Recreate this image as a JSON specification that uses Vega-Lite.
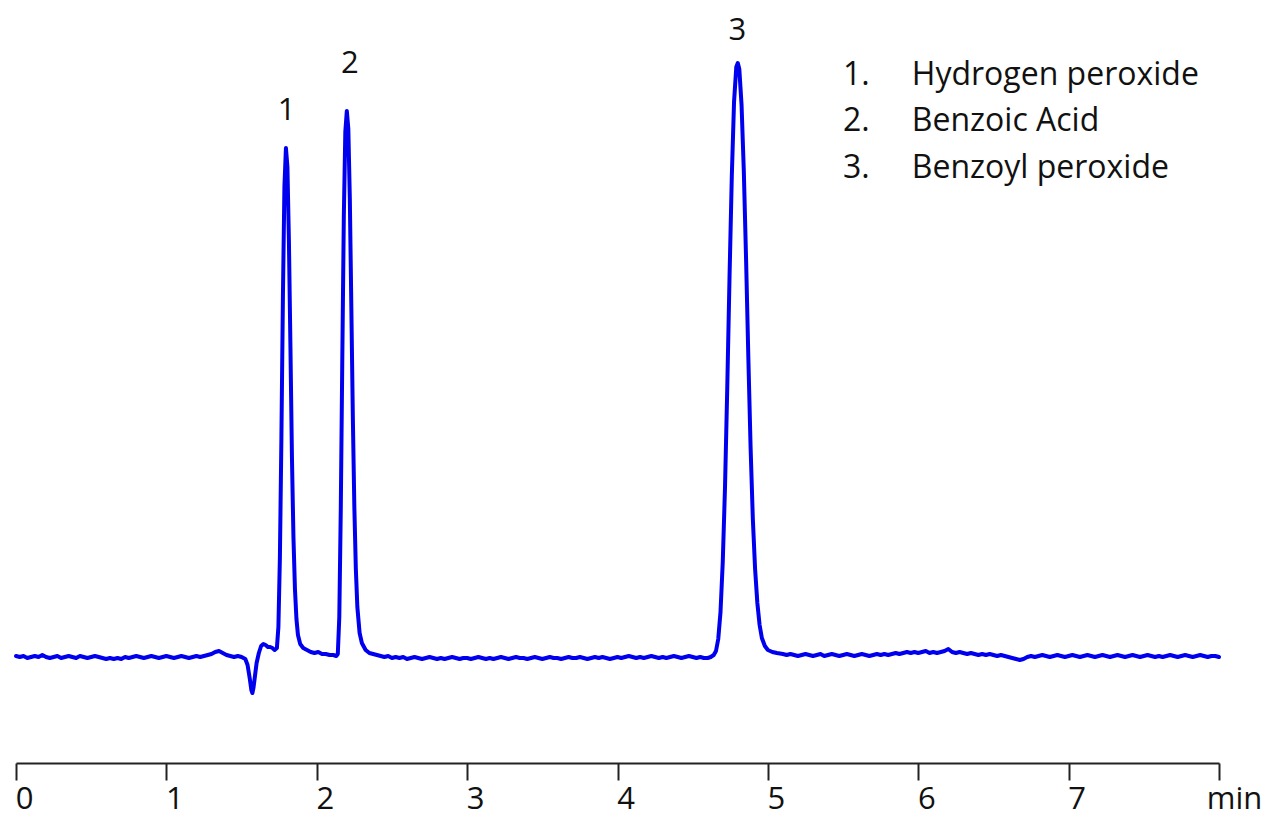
{
  "$schema": "https://vega.github.io/schema/vega-lite/v6.json",
  "width": 1203,
  "height": 743,
  "autosize": "none",
  "padding": {"left": 16, "top": 20, "right": 49, "bottom": 54},
  "background": "white",
  "config": {"view": {"stroke": null}},
  "datasets": {
    "trace": [
      {"t":0.000,"v":1},{"t":0.025,"v":0},{"t":0.050,"v":1},{"t":0.075,"v":-1},{"t":0.100,"v":0},{"t":0.125,"v":1},{"t":0.150,"v":0},{"t":0.175,"v":2},{"t":0.200,"v":0},{"t":0.225,"v":-1},
      {"t":0.250,"v":0},{"t":0.275,"v":1},{"t":0.300,"v":-1},{"t":0.325,"v":0},{"t":0.350,"v":1},{"t":0.375,"v":0},{"t":0.400,"v":-1},{"t":0.425,"v":1},{"t":0.450,"v":0},{"t":0.475,"v":-1},
      {"t":0.500,"v":0},{"t":0.525,"v":1},{"t":0.550,"v":0},{"t":0.575,"v":-1},{"t":0.600,"v":-2},{"t":0.625,"v":-1},{"t":0.650,"v":-2},{"t":0.675,"v":-1},{"t":0.700,"v":-2},{"t":0.725,"v":0},
      {"t":0.750,"v":-1},{"t":0.775,"v":0},{"t":0.800,"v":1},{"t":0.825,"v":0},{"t":0.850,"v":-1},{"t":0.875,"v":0},{"t":0.900,"v":1},{"t":0.925,"v":0},{"t":0.950,"v":-1},{"t":0.975,"v":0},
      {"t":1.000,"v":1},{"t":1.025,"v":0},{"t":1.050,"v":-1},{"t":1.075,"v":0},{"t":1.100,"v":1},{"t":1.125,"v":0},{"t":1.150,"v":-1},{"t":1.175,"v":0},{"t":1.200,"v":1},{"t":1.225,"v":0},
      {"t":1.250,"v":1},{"t":1.275,"v":2},{"t":1.300,"v":3},{"t":1.325,"v":5},{"t":1.350,"v":6},{"t":1.375,"v":4},{"t":1.400,"v":2},{"t":1.425,"v":1},{"t":1.450,"v":0},{"t":1.475,"v":1},
      {"t":1.500,"v":0},{"t":1.525,"v":-2},{"t":1.540,"v":-8},{"t":1.555,"v":-22},{"t":1.565,"v":-33},{"t":1.572,"v":-36},{"t":1.580,"v":-30},{"t":1.590,"v":-18},{"t":1.600,"v":-6},{"t":1.615,"v":4},
      {"t":1.630,"v":11},{"t":1.645,"v":13},{"t":1.660,"v":12},{"t":1.675,"v":10},{"t":1.690,"v":10},{"t":1.705,"v":9},{"t":1.720,"v":7},{"t":1.735,"v":9},{"t":1.745,"v":30},{"t":1.755,"v":100},
      {"t":1.765,"v":220},{"t":1.775,"v":360},{"t":1.785,"v":470},{"t":1.795,"v":509},{"t":1.805,"v":490},{"t":1.815,"v":415},{"t":1.825,"v":310},{"t":1.835,"v":200},{"t":1.845,"v":120},{"t":1.855,"v":68},
      {"t":1.865,"v":38},{"t":1.875,"v":22},{"t":1.890,"v":13},{"t":1.910,"v":9},{"t":1.935,"v":7},{"t":1.960,"v":5},{"t":1.985,"v":4},{"t":2.010,"v":5},{"t":2.035,"v":3},{"t":2.060,"v":3},
      {"t":2.085,"v":2},{"t":2.110,"v":2},{"t":2.130,"v":1},{"t":2.140,"v":3},{"t":2.150,"v":40},{"t":2.160,"v":150},{"t":2.170,"v":300},{"t":2.180,"v":440},{"t":2.190,"v":525},{"t":2.200,"v":546},
      {"t":2.210,"v":528},{"t":2.220,"v":458},{"t":2.230,"v":350},{"t":2.240,"v":240},{"t":2.250,"v":150},{"t":2.260,"v":88},{"t":2.270,"v":50},{"t":2.285,"v":24},{"t":2.300,"v":14},{"t":2.325,"v":7},
      {"t":2.350,"v":4},{"t":2.375,"v":3},{"t":2.400,"v":2},
      {"t":2.425,"v":1},{"t":2.450,"v":0},{"t":2.475,"v":1},{"t":2.500,"v":-1},{"t":2.525,"v":0},{"t":2.550,"v":-1},{"t":2.575,"v":0},{"t":2.600,"v":-2},{"t":2.625,"v":-1},{"t":2.650,"v":0},
      {"t":2.675,"v":-1},{"t":2.700,"v":-2},{"t":2.725,"v":-1},{"t":2.750,"v":0},{"t":2.775,"v":-1},{"t":2.800,"v":-2},{"t":2.825,"v":-1},{"t":2.850,"v":-2},{"t":2.875,"v":-1},{"t":2.900,"v":0},
      {"t":2.925,"v":-1},{"t":2.950,"v":-2},{"t":2.975,"v":-1},{"t":3.000,"v":-1},{"t":3.025,"v":-2},{"t":3.050,"v":-1},{"t":3.075,"v":0},{"t":3.100,"v":-1},{"t":3.125,"v":-2},{"t":3.150,"v":-1},
      {"t":3.175,"v":-2},{"t":3.200,"v":-1},{"t":3.225,"v":0},{"t":3.250,"v":-1},{"t":3.275,"v":-2},{"t":3.300,"v":-1},{"t":3.325,"v":0},{"t":3.350,"v":-1},{"t":3.375,"v":-1},{"t":3.400,"v":-2},
      {"t":3.425,"v":-1},{"t":3.450,"v":0},{"t":3.475,"v":-1},{"t":3.500,"v":-2},{"t":3.525,"v":-1},{"t":3.550,"v":0},{"t":3.575,"v":-1},{"t":3.600,"v":-1},{"t":3.625,"v":-2},{"t":3.650,"v":-1},
      {"t":3.675,"v":0},{"t":3.700,"v":-1},{"t":3.725,"v":-1},{"t":3.750,"v":0},{"t":3.775,"v":-1},{"t":3.800,"v":-2},{"t":3.825,"v":-1},{"t":3.850,"v":0},{"t":3.875,"v":-1},{"t":3.900,"v":0},
      {"t":3.925,"v":-1},{"t":3.950,"v":-2},{"t":3.975,"v":-1},{"t":4.000,"v":0},{"t":4.025,"v":-1},{"t":4.050,"v":0},{"t":4.075,"v":1},{"t":4.100,"v":0},{"t":4.125,"v":-1},{"t":4.150,"v":0},
      {"t":4.175,"v":-1},{"t":4.200,"v":0},{"t":4.225,"v":1},{"t":4.250,"v":0},{"t":4.275,"v":-1},{"t":4.300,"v":0},{"t":4.325,"v":-1},{"t":4.350,"v":0},{"t":4.375,"v":1},{"t":4.400,"v":0},
      {"t":4.425,"v":-1},{"t":4.450,"v":0},{"t":4.475,"v":1},{"t":4.500,"v":0},{"t":4.525,"v":-1},{"t":4.550,"v":0},{"t":4.575,"v":-1},
      {"t":4.600,"v":-1},{"t":4.620,"v":0},{"t":4.640,"v":2},{"t":4.655,"v":6},{"t":4.670,"v":18},{"t":4.685,"v":45},{"t":4.700,"v":95},{"t":4.715,"v":170},{"t":4.730,"v":270},{"t":4.745,"v":380},
      {"t":4.760,"v":480},{"t":4.775,"v":555},{"t":4.790,"v":590},{"t":4.800,"v":594},{"t":4.810,"v":588},{"t":4.825,"v":552},{"t":4.840,"v":486},{"t":4.855,"v":398},{"t":4.870,"v":300},{"t":4.885,"v":210},
      {"t":4.900,"v":138},{"t":4.915,"v":88},{"t":4.930,"v":54},{"t":4.945,"v":32},{"t":4.960,"v":19},{"t":4.980,"v":11},{"t":5.000,"v":7},{"t":5.030,"v":5},{"t":5.060,"v":4},{"t":5.100,"v":3},
      {"t":5.125,"v":2},{"t":5.150,"v":3},{"t":5.175,"v":2},{"t":5.200,"v":1},{"t":5.225,"v":2},{"t":5.250,"v":3},{"t":5.275,"v":2},{"t":5.300,"v":1},{"t":5.325,"v":2},{"t":5.350,"v":3},
      {"t":5.375,"v":1},{"t":5.400,"v":2},{"t":5.425,"v":3},{"t":5.450,"v":2},{"t":5.475,"v":1},{"t":5.500,"v":2},{"t":5.525,"v":3},{"t":5.550,"v":2},{"t":5.575,"v":1},{"t":5.600,"v":2},
      {"t":5.625,"v":3},{"t":5.650,"v":2},{"t":5.675,"v":1},{"t":5.700,"v":2},{"t":5.725,"v":3},{"t":5.750,"v":2},{"t":5.775,"v":3},{"t":5.800,"v":2},{"t":5.825,"v":3},{"t":5.850,"v":4},
      {"t":5.875,"v":3},{"t":5.900,"v":4},{"t":5.925,"v":5},{"t":5.950,"v":4},{"t":5.975,"v":5},{"t":6.000,"v":4},{"t":6.025,"v":5},{"t":6.050,"v":6},{"t":6.075,"v":4},{"t":6.100,"v":5},
      {"t":6.125,"v":4},{"t":6.150,"v":5},{"t":6.175,"v":6},{"t":6.200,"v":8},{"t":6.225,"v":5},{"t":6.250,"v":4},{"t":6.275,"v":5},{"t":6.300,"v":4},{"t":6.325,"v":3},{"t":6.350,"v":4},
      {"t":6.375,"v":3},{"t":6.400,"v":2},{"t":6.425,"v":3},{"t":6.450,"v":2},{"t":6.475,"v":3},{"t":6.500,"v":2},{"t":6.525,"v":1},{"t":6.550,"v":2},{"t":6.575,"v":1},{"t":6.600,"v":0},
      {"t":6.625,"v":-1},{"t":6.650,"v":-2},{"t":6.675,"v":-3},{"t":6.700,"v":-2},{"t":6.725,"v":0},{"t":6.750,"v":1},{"t":6.775,"v":0},{"t":6.800,"v":1},{"t":6.825,"v":2},{"t":6.850,"v":1},
      {"t":6.875,"v":0},{"t":6.900,"v":1},{"t":6.925,"v":2},{"t":6.950,"v":1},{"t":6.975,"v":0},{"t":7.000,"v":1},{"t":7.025,"v":2},{"t":7.050,"v":1},{"t":7.075,"v":0},{"t":7.100,"v":1},
      {"t":7.125,"v":2},{"t":7.150,"v":1},{"t":7.175,"v":0},{"t":7.200,"v":1},{"t":7.225,"v":2},{"t":7.250,"v":1},{"t":7.275,"v":0},{"t":7.300,"v":1},{"t":7.325,"v":2},{"t":7.350,"v":1},
      {"t":7.375,"v":0},{"t":7.400,"v":1},{"t":7.425,"v":2},{"t":7.450,"v":1},{"t":7.475,"v":0},{"t":7.500,"v":1},{"t":7.525,"v":2},{"t":7.550,"v":1},{"t":7.575,"v":0},{"t":7.600,"v":1},
      {"t":7.625,"v":0},{"t":7.650,"v":1},{"t":7.675,"v":2},{"t":7.700,"v":1},{"t":7.725,"v":0},{"t":7.750,"v":1},{"t":7.775,"v":2},{"t":7.800,"v":1},{"t":7.825,"v":0},{"t":7.850,"v":1},
      {"t":7.875,"v":2},{"t":7.900,"v":1},{"t":7.925,"v":0},{"t":7.950,"v":1},{"t":7.975,"v":1},{"t":8.000,"v":0}
    ],
    "peaks": [
      {"t": 1.80, "v": 537, "label": "1"},
      {"t": 2.22, "v": 584, "label": "2"},
      {"t": 4.797, "v": 617, "label": "3"}
    ],
    "legend": [
      {"t": 5.499, "tn": 5.957, "v": 572, "num": "1.", "name": "Hydrogen peroxide"},
      {"t": 5.499, "tn": 5.957, "v": 526, "num": "2.", "name": "Benzoic Acid"},
      {"t": 5.499, "tn": 5.957, "v": 479, "num": "3.", "name": "Benzoyl peroxide"}
    ]
  },
  "layer": [
    {
      "data": {"name": "trace"},
      "mark": {"type": "line", "color": "#0000EE", "strokeWidth": 4, "strokeJoin": "round", "strokeCap": "round", "clip": false},
      "encoding": {
        "x": {
          "field": "t", "type": "quantitative",
          "scale": {"domain": [0, 8], "nice": false, "zero": false},
          "axis": {
            "values": [0, 1, 2, 3, 4, 5, 6, 7, 8],
            "format": "d",
            "labelExpr": "datum.value === 8 ? 'min' : datum.label",
            "title": null,
            "grid": false,
            "domainColor": "#222222",
            "domainWidth": 2,
            "tickColor": "#222222",
            "tickWidth": 2,
            "tickSize": 17,
            "labelFont": "Open Sans",
            "labelFontSize": 31,
            "labelColor": "#111111",
            "labelPadding": 4,
            "labelOffset": {"condition": {"test": "datum.value === 8", "value": 15}, "value": 8},
            "labelBound": false,
            "labelFlush": false,
            "labelOverlap": false
          }
        },
        "y": {
          "field": "v", "type": "quantitative",
          "scale": {"domain": [-106, 637], "nice": false, "zero": false},
          "axis": null
        }
      }
    },
    {
      "data": {"name": "peaks"},
      "mark": {"type": "text", "font": "Open Sans", "fontSize": 31, "color": "#111111", "align": "center", "baseline": "alphabetic"},
      "encoding": {
        "x": {"field": "t", "type": "quantitative"},
        "y": {"field": "v", "type": "quantitative"},
        "text": {"field": "label"}
      }
    },
    {
      "data": {"name": "legend"},
      "mark": {"type": "text", "font": "Open Sans", "fontSize": 32, "color": "#111111", "align": "left", "baseline": "alphabetic"},
      "encoding": {
        "x": {"field": "t", "type": "quantitative"},
        "y": {"field": "v", "type": "quantitative"},
        "text": {"field": "num"}
      }
    },
    {
      "data": {"name": "legend"},
      "mark": {"type": "text", "font": "Open Sans", "fontSize": 32, "color": "#111111", "align": "left", "baseline": "alphabetic"},
      "encoding": {
        "x": {"field": "tn", "type": "quantitative"},
        "y": {"field": "v", "type": "quantitative"},
        "text": {"field": "name"}
      }
    }
  ]
}
